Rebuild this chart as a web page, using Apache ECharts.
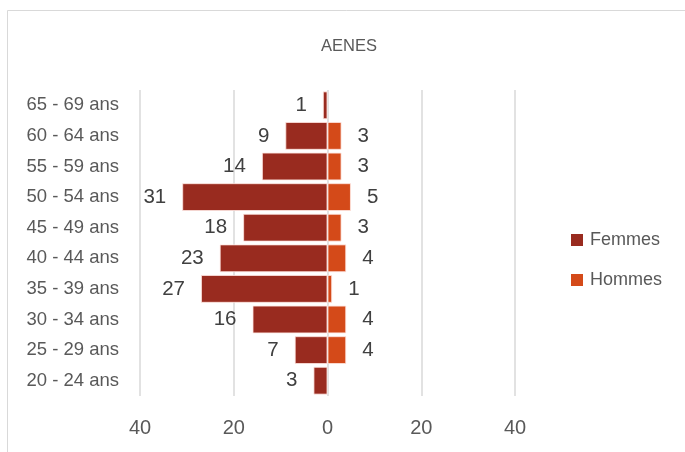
<!DOCTYPE html>
<html>
<head>
<meta charset="utf-8">
<script src="https://cdn.jsdelivr.net/npm/echarts@6/dist/echarts.min.js"></script>
<style>
html,body{margin:0;padding:0;background:#fff;}
#c{width:685px;height:452px;}
</style>
</head>
<body>
<div id="c"></div>
<script>
// Data (top row to bottom row)
var categories = ['65 - 69 ans','60 - 64 ans','55 - 59 ans','50 - 54 ans','45 - 49 ans','40 - 44 ans','35 - 39 ans','30 - 34 ans','25 - 29 ans','20 - 24 ans'];
var femmes = [1, 9, 14, 31, 18, 23, 27, 16, 7, 3];
var hommes = [null, 3, 3, 5, 3, 4, 1, 4, 4, null];
var xTicks = [-40, -20, 0, 20, 40];

var FONT = '"Liberation Sans", Arial, sans-serif';
var chart = echarts.init(document.getElementById('c'), null, {renderer: 'canvas'});
chart.setOption({
  animation: false,
  backgroundColor: '#ffffff',
  title: {
    text: 'AENES',
    left: 316, top: 33,
    textStyle: {fontFamily: FONT, fontSize: 16.5, fontWeight: 'normal', color: '#595959'}
  },
  graphic: [{
    type: 'rect', silent: true, z: -1,
    shape: {x: 7.5, y: 10.5, width: 720, height: 480},
    style: {fill: 'none', stroke: '#d9d9d9', lineWidth: 1}
  }],
  legend: {
    orient: 'vertical',
    left: 566, top: 226,
    itemWidth: 12, itemHeight: 12, itemGap: 22,
    icon: 'rect',
    itemStyle: {borderWidth: 0},
    textStyle: {fontFamily: FONT, fontSize: 18, color: '#595959', padding: [0,0,0,2]},
    data: ['Femmes', 'Hommes']
  },
  grid: {left: 140, right: 170, top: 90, bottom: 56, containLabel: false},
  xAxis: {
    type: 'value', min: xTicks[0], max: xTicks[xTicks.length-1], interval: 20,
    axisLine: {show: false}, axisTick: {show: false},
    splitLine: {lineStyle: {color: '#d9d9d9', width: 1.5}},
    axisLabel: {
      margin: 22, fontFamily: FONT, fontSize: 20, color: '#595959',
      formatter: function (v) { return Math.abs(v); }
    }
  },
  yAxis: {
    type: 'category', inverse: true, data: categories,
    axisLine: {show: false}, axisTick: {show: false},
    axisLabel: {margin: 21, fontFamily: FONT, fontSize: 18.5, color: '#595959'}
  },
  series: [{
    name: 'Femmes', type: 'bar', stack: 'p',
    barCategoryGap: '9%',
    data: femmes.map(function (v) { return v == null ? null : -v; }),
    itemStyle: {color: '#992b1f', borderColor: 'rgba(255,230,225,0.8)', borderWidth: 1},
    label: {
      show: true, position: 'left', distance: 16,
      fontFamily: FONT, fontSize: 20.5, color: '#404040',
      formatter: function (p) { return Math.abs(p.value); }
    }
  }, {
    name: 'Hommes', type: 'bar', stack: 'p',
    barCategoryGap: '9%',
    data: hommes,
    itemStyle: {color: '#d44a19', borderColor: 'rgba(255,230,225,0.8)', borderWidth: 1},
    label: {
      show: true, position: 'right', distance: 16,
      fontFamily: FONT, fontSize: 20.5, color: '#404040'
    }
  }]
});
</script>
</body>
</html>
